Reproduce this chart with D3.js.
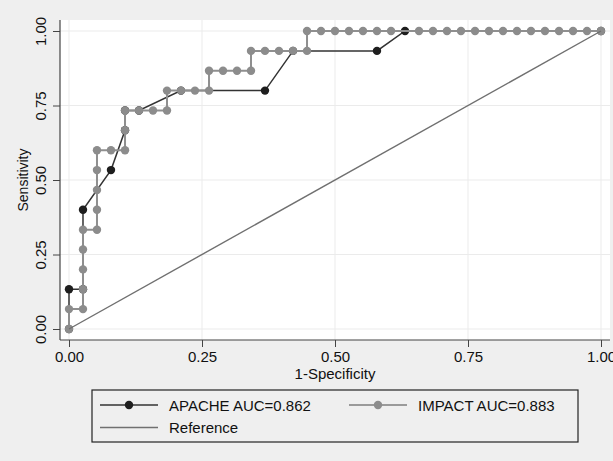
<!DOCTYPE html>
<html>
<head>
<meta charset="utf-8">
<script src="https://cdn.jsdelivr.net/npm/d3@7"></script>
<style>
  body { margin: 0; background: #efefef; }
  text { font-family: "Liberation Sans", Arial, sans-serif; fill: #111; }
</style>
</head>
<body>
<div id="viz"></div>
<script>
// ROC points (1-specificity, sensitivity)
var apacheFpr  = [0, 0, 0.0263, 0.0263, 0.0789, 0.1053, 0.1053, 0.1316, 0.2105, 0.3684, 0.4211, 0.5789, 0.6316, 1];
var apacheSens = [0, 0.1333, 0.1333, 0.4, 0.5333, 0.6667, 0.7333, 0.7333, 0.8, 0.8, 0.9333, 0.9333, 1, 1];

var impactFpr = [0, 0, 0.0263, 0.0263, 0.0263, 0.0263, 0.0263, 0.0526, 0.0526, 0.0526, 0.0526, 0.0526,
  0.0789, 0.1053, 0.1053, 0.1053, 0.1316, 0.1579, 0.1842, 0.1842, 0.2105, 0.2368, 0.2632, 0.2632,
  0.2895, 0.3158, 0.3421, 0.3421, 0.3684, 0.3947, 0.4211, 0.4474, 0.4474, 0.4737, 0.5, 0.5263,
  0.5526, 0.5789, 0.6053, 0.6579, 0.6842, 0.7105, 0.7368, 0.7632, 0.7895, 0.8158, 0.8421, 0.8684,
  0.8947, 0.9211, 0.9474, 0.9737, 1];
var impactSens = [0, 0.0667, 0.0667, 0.1333, 0.2, 0.2667, 0.3333, 0.3333, 0.4, 0.4667, 0.5333, 0.6,
  0.6, 0.6, 0.6667, 0.7333, 0.7333, 0.7333, 0.7333, 0.8, 0.8, 0.8, 0.8, 0.8667,
  0.8667, 0.8667, 0.8667, 0.9333, 0.9333, 0.9333, 0.9333, 0.9333, 1, 1, 1, 1,
  1, 1, 1, 1, 1, 1, 1, 1, 1, 1, 1, 1,
  1, 1, 1, 1, 1];

var refFpr  = [0, 1];
var refSens = [0, 1];

var tickVals = [0, 0.25, 0.5, 0.75, 1];
var seriesNames = ['APACHE AUC=0.862', 'IMPACT AUC=0.883', 'Reference'];

var svg = d3.select('#viz').append('svg')
  .attr('width', 613)
  .attr('height', 461);

svg.append('rect').attr('width', 613).attr('height', 461).attr('fill', '#efefef');

// plot region
var region = {left: 60, right: 610, top: 20, bottom: 340};
svg.append('rect')
  .attr('x', region.left).attr('y', region.top)
  .attr('width', region.right - region.left)
  .attr('height', region.bottom - region.top)
  .attr('fill', '#ffffff');

var x = d3.scaleLinear().domain([0, 1]).range([69, 601]);
var y = d3.scaleLinear().domain([0, 1]).range([329, 31]);

// grid
svg.append('g').selectAll('line').data(tickVals).enter().append('line')
  .attr('x1', region.left).attr('x2', region.right)
  .attr('y1', function (d) { return y(d); }).attr('y2', function (d) { return y(d); })
  .attr('stroke', '#ebebeb').attr('stroke-width', 1);
svg.append('g').selectAll('line').data(tickVals).enter().append('line')
  .attr('y1', region.top).attr('y2', region.bottom)
  .attr('x1', function (d) { return x(d); }).attr('x2', function (d) { return x(d); })
  .attr('stroke', '#ebebeb').attr('stroke-width', 1);

// axes
var yAxis = svg.append('g')
  .attr('transform', 'translate(' + region.left + ',0)')
  .call(d3.axisLeft(y).tickValues(tickVals).tickFormat(d3.format('.2f')).tickSize(7).tickSizeOuter(0));
yAxis.select('.domain').remove();
yAxis.selectAll('.tick line').attr('stroke', '#444');
yAxis.selectAll('.tick text')
  .attr('x', null).attr('dy', null)
  .attr('transform', 'translate(-14,0) rotate(-90)')
  .attr('text-anchor', 'middle')
  .style('font-size', '15px');

var xAxis = svg.append('g')
  .attr('transform', 'translate(0,' + region.bottom + ')')
  .call(d3.axisBottom(x).tickValues(tickVals).tickFormat(d3.format('.2f')).tickSize(7).tickSizeOuter(0));
xAxis.select('.domain').remove();
xAxis.selectAll('.tick line').attr('stroke', '#444');
xAxis.selectAll('.tick text')
  .attr('y', 22).attr('dy', null)
  .style('font-size', '15px');

svg.append('line')
  .attr('x1', region.left).attr('x2', region.left)
  .attr('y1', region.top).attr('y2', region.bottom)
  .attr('stroke', '#444').attr('stroke-width', 1.2);
svg.append('line')
  .attr('x1', region.left).attr('x2', region.right)
  .attr('y1', region.bottom).attr('y2', region.bottom)
  .attr('stroke', '#444').attr('stroke-width', 1.2);

// axis titles
svg.append('text')
  .attr('x', 335).attr('y', 379)
  .attr('text-anchor', 'middle')
  .style('font-size', '15px')
  .text('1-Specificity');
svg.append('text')
  .attr('transform', 'translate(28,180) rotate(-90)')
  .attr('text-anchor', 'middle')
  .style('font-size', '14px')
  .text('Sensitivity');

// series
var line = d3.line()
  .x(function (d) { return x(d[0]); })
  .y(function (d) { return y(d[1]); });

function drawSeries(fpr, sens, lineColor, lineWidth, dotColor) {
  var pts = d3.zip(fpr, sens);
  var g = svg.append('g');
  g.append('path').datum(pts)
    .attr('d', line)
    .attr('fill', 'none')
    .attr('stroke', lineColor)
    .attr('stroke-width', lineWidth);
  g.selectAll('circle').data(pts).enter().append('circle')
    .attr('cx', function (d) { return x(d[0]); })
    .attr('cy', function (d) { return y(d[1]); })
    .attr('r', 4.2)
    .attr('fill', dotColor);
}

drawSeries(apacheFpr, apacheSens, '#333333', 1.5, '#1e1e1e');
drawSeries(impactFpr, impactSens, '#8f8f8f', 2, '#8c8c8c');

svg.append('path').datum(d3.zip(refFpr, refSens))
  .attr('d', line)
  .attr('fill', 'none')
  .attr('stroke', '#707070')
  .attr('stroke-width', 1.4);

// legend
var legend = svg.append('g');
legend.append('rect')
  .attr('x', 92).attr('y', 390).attr('width', 486).attr('height', 52)
  .attr('fill', 'none').attr('stroke', '#222').attr('stroke-width', 1.2);

var legendItems = [
  {name: seriesNames[0], lx: 100, ly: 405, color: '#333333', dot: '#1e1e1e', w: 1.5},
  {name: seriesNames[1], lx: 349, ly: 405, color: '#9a9a9a', dot: '#8c8c8c', w: 2},
  {name: seriesNames[2], lx: 100, ly: 427.5, color: '#707070', dot: null, w: 1.4}
];
legendItems.forEach(function (it) {
  legend.append('line')
    .attr('x1', it.lx).attr('x2', it.lx + 58)
    .attr('y1', it.ly).attr('y2', it.ly)
    .attr('stroke', it.color).attr('stroke-width', it.w);
  if (it.dot) {
    legend.append('circle')
      .attr('cx', it.lx + 29).attr('cy', it.ly).attr('r', 4.2)
      .attr('fill', it.dot);
  }
  legend.append('text')
    .attr('x', it.lx + 69).attr('y', it.ly + 5.5)
    .style('font-size', '15px')
    .text(it.name);
});
</script>
</body>
</html>
